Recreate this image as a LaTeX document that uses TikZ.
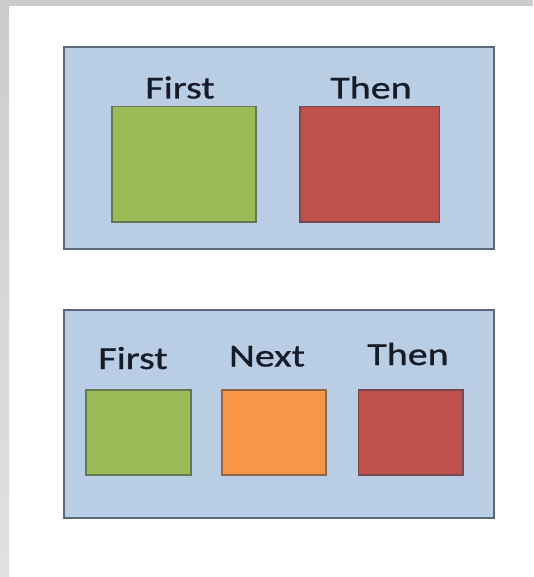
\documentclass[tikz,border=0pt]{standalone}
\usepackage{fontspec}
\setmainfont{Carlito}[FakeStretch=1.25, FakeBold=0.8]
\usepackage{tikz}
\usetikzlibrary{positioning}

\definecolor{panelblue}{HTML}{B9CDE5}
\definecolor{paneledge}{HTML}{5A6878}
\definecolor{boxgreen}{HTML}{9BBB59}
\definecolor{boxred}{HTML}{C0504D}
\definecolor{boxorange}{HTML}{F79646}
\definecolor{labelink}{HTML}{161B28}

\begin{document}
\begin{tikzpicture}[x=1pt, y=-1pt,
    panel/.style={draw=paneledge, line width=1.6pt, fill=panelblue, inner sep=0pt, outer sep=0pt},
    tile/.style={draw=#1!55!paneledge!80!black, line width=1.4pt, fill=#1, inner sep=0pt, outer sep=0pt},
    word/.style={anchor=base, text=labelink, font=\fontsize{32}{36}\selectfont}]
    % page and grey edges
    \useasboundingbox (0,0) rectangle (533,577);
    \fill[white] (0,0) rectangle (533,577);
    \shade[top color=black!20, bottom color=black!12] (0,0) rectangle (9,577);
    \fill[black!20] (0,0) rectangle (533,6);

    % two steps
    \node[panel, minimum width=430pt, minimum height=202pt] (top) at (278.8,148) {};
    \node[tile=boxgreen, minimum width=144pt, minimum height=115pt] (first) at (184,164.3) {};
    \node[tile=boxred, minimum width=139.5pt, minimum height=115pt] (then) at (369.7,164.3) {};
    \node[word] (firstlbl) at (180,98.5) {First};
    \node[word] (thenlbl) at (371,98.5) {Then};

    % three steps
    \node[panel, minimum width=430pt, minimum height=208pt] (bottom) at (278.8,414) {};
    \node[tile=boxgreen, minimum width=105pt, minimum height=85pt] (firstb) at (138.5,432.5) {};
    \node[tile=boxorange, minimum width=104pt, minimum height=85pt] (nextb) at (274,432.5) {};
    \node[tile=boxred, minimum width=104.5pt, minimum height=85pt] (thenb) at (410.7,432.5) {};
    \node[word] (firstblbl) at (133,369) {First};
    \node[word] (nextblbl) at (267,366.5) {Next};
    \node[word] (thenblbl) at (408,365) {Then};
\end{tikzpicture}
\end{document}
